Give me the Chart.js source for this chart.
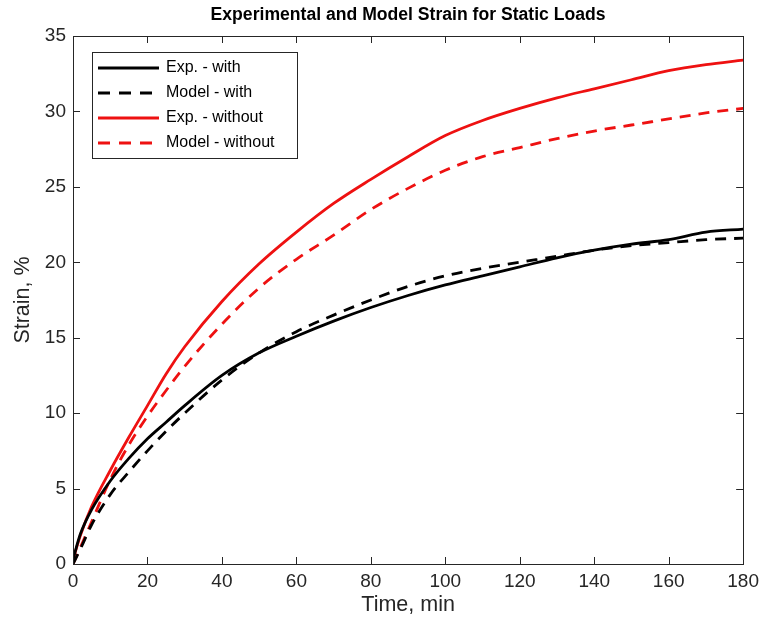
<!DOCTYPE html>
<html>
<head>
<meta charset="utf-8">
<script src="https://cdn.jsdelivr.net/npm/chart.js@4.4.1/dist/chart.umd.min.js"></script>
<style>
  html, body { margin: 0; padding: 0; background: #ffffff; }
  #wrap { width: 765px; height: 631px; }
</style>
</head>
<body>
<div id="wrap"><canvas id="c" width="765" height="631"></canvas></div>
<script>
// ---- data ----
const chartTitle = 'Experimental and Model Strain for Static Loads';
const xTitle = 'Time, min';
const yTitle = 'Strain, %';
const timeMin = [0, 2, 5, 10, 15, 20, 25, 30, 40, 50, 60, 70, 80, 90, 100, 110, 120, 130, 140, 150, 160, 170, 180];
const expWith      = [0.3, 2.0, 3.6, 5.5, 7.0, 8.3, 9.4, 10.5, 12.5, 14.0, 15.1, 16.1, 17.0, 17.8, 18.5, 19.1, 19.7, 20.3, 20.8, 21.2, 21.5, 22.0, 22.2];
const modelWith    = [0.0, 1.0, 2.6, 4.6, 6.1, 7.5, 8.8, 10.0, 12.2, 14.0, 15.4, 16.5, 17.5, 18.4, 19.1, 19.6, 20.0, 20.4, 20.8, 21.1, 21.3, 21.5, 21.6];
const expWithout   = [0.3, 1.9, 3.8, 6.2, 8.4, 10.5, 12.6, 14.4, 17.4, 19.9, 22.0, 23.9, 25.5, 27.0, 28.4, 29.4, 30.2, 30.9, 31.5, 32.1, 32.7, 33.1, 33.4];
const modelWithout = [0.0, 1.1, 2.8, 5.6, 7.9, 9.8, 11.5, 13.1, 15.9, 18.3, 20.2, 21.8, 23.5, 24.9, 26.1, 27.0, 27.6, 28.2, 28.7, 29.1, 29.5, 29.9, 30.2];
const seriesLabels = ['Exp. - with', 'Model - with', 'Exp. - without', 'Model - without'];
const xTickValues = [0, 20, 40, 60, 80, 100, 120, 140, 160, 180];
const yTickValues = [0, 5, 10, 15, 20, 25, 30, 35];

const FONT = '"Liberation Sans", Arial, Helvetica, sans-serif';
const AXIS_COLOR = '#262626';
const DASH = [11, 8];

function pts(vals) { return timeMin.map((t, i) => ({ x: t, y: vals[i] })); }

const datasets = [
  { label: seriesLabels[0], data: pts(expWith),      borderColor: '#000000', borderDash: [] },
  { label: seriesLabels[1], data: pts(modelWith),    borderColor: '#000000', borderDash: DASH },
  { label: seriesLabels[2], data: pts(expWithout),   borderColor: '#ee1111', borderDash: [] },
  { label: seriesLabels[3], data: pts(modelWithout), borderColor: '#ee1111', borderDash: DASH }
].map(d => Object.assign(d, {
  borderWidth: 2.8, pointRadius: 0, fill: false,
  cubicInterpolationMode: 'monotone', borderCapStyle: 'butt'
}));

const decor = {
  id: 'decor',
  afterDraw(chart) {
    const ctx = chart.ctx;
    const a = chart.chartArea;
    const xs = chart.scales.x, ys = chart.scales.y;
    ctx.save();
    // axes box
    ctx.strokeStyle = AXIS_COLOR;
    ctx.lineWidth = 1;
    ctx.setLineDash([]);
    ctx.strokeRect(Math.round(a.left) + 0.5, Math.round(a.top) + 0.5, Math.round(a.right - a.left), Math.round(a.bottom - a.top));
    // inward ticks on all four sides
    const TL = 7;
    ctx.beginPath();
    xs.ticks.forEach(t => {
      const px = Math.round(xs.getPixelForValue(t.value)) + 0.5;
      ctx.moveTo(px, a.bottom); ctx.lineTo(px, a.bottom - TL);
      ctx.moveTo(px, a.top); ctx.lineTo(px, a.top + TL);
    });
    ys.ticks.forEach(t => {
      const py = Math.round(ys.getPixelForValue(t.value)) + 0.5;
      ctx.moveTo(a.left, py); ctx.lineTo(a.left + TL, py);
      ctx.moveTo(a.right, py); ctx.lineTo(a.right - TL, py);
    });
    ctx.stroke();
    // title centred over the plot
    ctx.fillStyle = '#000000';
    ctx.font = 'bold 17.6px ' + FONT;
    ctx.textAlign = 'center';
    ctx.textBaseline = 'middle';
    ctx.fillText(chartTitle, (a.left + a.right) / 2, 15);
    // legend inside the plot, upper left
    const bx = 92, by = 52, bw = 205, bh = 106;
    ctx.fillStyle = '#ffffff';
    ctx.fillRect(bx, by, bw, bh);
    ctx.strokeStyle = AXIS_COLOR;
    ctx.lineWidth = 1;
    ctx.strokeRect(bx + 0.5, by + 0.5, bw, bh);
    ctx.font = '16px ' + FONT;
    ctx.textAlign = 'left';
    ctx.textBaseline = 'middle';
    chart.data.datasets.forEach((d, i) => {
      const y = 68 + i * 25;
      ctx.beginPath();
      ctx.strokeStyle = d.borderColor;
      ctx.lineWidth = 3;
      ctx.setLineDash(d.borderDash && d.borderDash.length ? [12, 9] : []);
      ctx.moveTo(98, y); ctx.lineTo(159, y);
      ctx.stroke();
      ctx.setLineDash([]);
      ctx.fillStyle = '#000000';
      ctx.fillText(d.label, 166, y);
    });
    ctx.restore();
  }
};

new Chart(document.getElementById('c'), {
  type: 'line',
  data: { datasets },
  options: {
    responsive: false,
    animation: false,
    devicePixelRatio: 1,
    layout: { padding: { top: 36, right: 20, left: 0, bottom: 0 } },
    plugins: { legend: { display: false }, title: { display: false }, tooltip: { enabled: false } },
    scales: {
      x: {
        type: 'linear', min: 0, max: 180,
        afterBuildTicks: s => { s.ticks = xTickValues.map(v => ({ value: v })); },
        afterFit: s => { s.height = 67; },
        grid: { display: false, drawTicks: false },
        border: { display: false },
        ticks: { color: AXIS_COLOR, font: { family: FONT, size: 19 }, padding: 6, maxRotation: 0 },
        title: { display: true, text: xTitle, color: AXIS_COLOR, font: { family: FONT, size: 21.5 }, padding: { top: 0, bottom: 13 } }
      },
      y: {
        type: 'linear', min: 0, max: 35,
        afterBuildTicks: s => { s.ticks = yTickValues.map(v => ({ value: v })); },
        afterFit: s => { s.width = 73; },
        grid: { display: false, drawTicks: false },
        border: { display: false },
        ticks: { color: AXIS_COLOR, font: { family: FONT, size: 19 }, padding: 7 },
        title: { display: true, text: yTitle, color: AXIS_COLOR, font: { family: FONT, size: 21.5 }, padding: { top: 10, bottom: 0 } }
      }
    }
  },
  plugins: [decor]
});
</script>
</body>
</html>
